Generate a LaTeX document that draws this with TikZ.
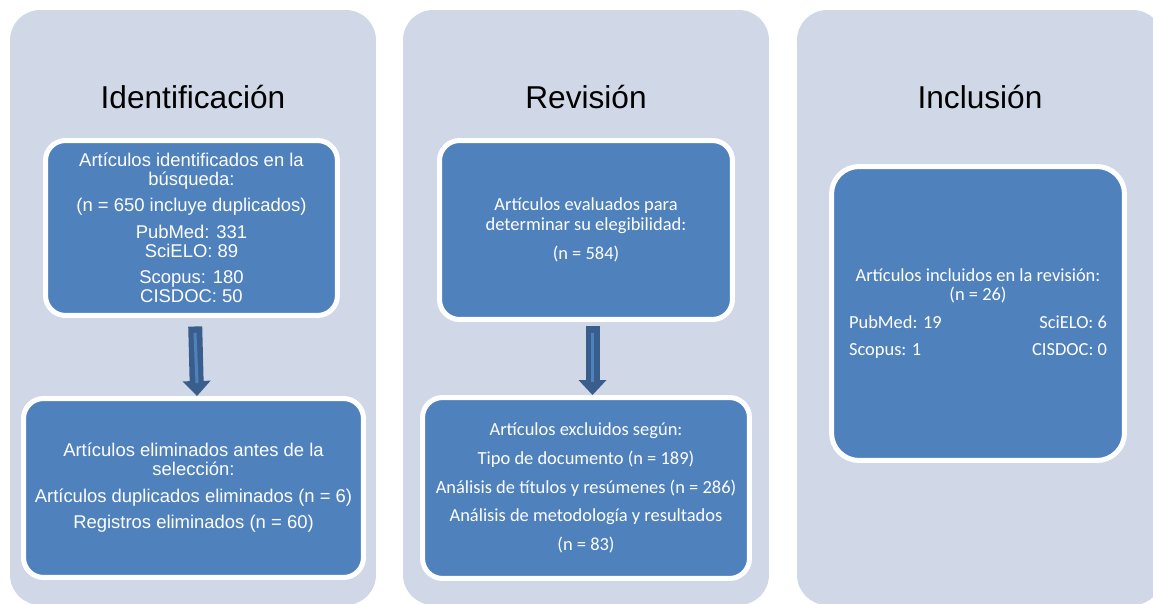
\documentclass[tikz,border=0pt]{standalone}
\usepackage{fontspec}
\setmainfont{Liberation Sans}
\newfontfamily\calfont{Carlito}
\usepackage{tikz}
\usetikzlibrary{arrows.meta}
\definecolor{panelgray}{RGB}{208, 216, 232}
\definecolor{boxblue}{RGB}{79, 129, 189}
\definecolor{arrowblue}{RGB}{58, 94, 140}
\tikzstyle{phase}=[rectangle, fill=panelgray, rounded corners=0.6cm, minimum width=7.32cm, minimum height=11.9cm, inner sep=0pt]
\tikzstyle{phasetitle}=[font=\fontsize{18}{18}\selectfont, anchor=base, inner sep=0pt]
\tikzstyle{stage}=[rectangle, draw=white, line width=0.1cm, fill=boxblue, rounded corners=0.4cm, text=white, align=center, inner sep=0pt, font=\fontsize{10.5}{10.8}\selectfont]
\tikzstyle{calstage}=[stage, font=\calfont\fontsize{10.5}{11.3}\selectfont]
\tikzstyle{flow}=[draw=arrowblue, line width=0.28cm, -{Triangle[length=0.3cm, width=0.56cm, line width=0pt]}]
\tikzstyle{flowline}=[draw=boxblue, line width=0.06cm]

\begin{document}
\begin{tikzpicture}[x=0.02cm, y=-0.02cm]
      %
      \clip (0,0) rectangle (1153,604);
      %
      % Panels and titles
      %
      \node[phase] (phaseId) at (193,307.5) {};
      \node[phase] (phaseRev) at (586,307.5) {};
      \node[phase] (phaseInc) at (980,307.5) {};
      \node[phasetitle] (titleId) at (193,109) {Identificación};
      \node[phasetitle] (titleRev) at (586,109) {Revisión};
      \node[phasetitle] (titleInc) at (980,109) {Inclusión};
      %
      % Identificación: identified --> removed
      %
      \node[stage, minimum width=5.84cm, minimum height=3.5cm] (identified) at (191.5,228)
        {Artículos identificados en la\\ búsqueda:\\[4.3pt]
         (n = 650 incluye duplicados)\\[4.3pt]
         PubMed: 331\\ SciELO: 89\\[4.3pt]
         Scopus: 180\\ CISDOC: 50};
      \node[stage, minimum width=6.8cm, minimum height=3.58cm] (removed) at (193.5,488)
        {Artículos eliminados antes de la\\ selección:\\[4.3pt]
         Artículos duplicados eliminados (n = 6)\\[4.3pt]
         Registros eliminados (n = 60)};
      \draw[flow, shorten <=0.17cm] ([xshift=0.07cm]identified.south) -- ([xshift=0.07cm]removed.north);
      \draw[flowline] ([xshift=0.07cm, yshift=-0.3cm]identified.south) -- ([xshift=0.07cm, yshift=0.26cm]removed.north);
      %
      % Revisión: screened --> excluded
      %
      \node[calstage, minimum width=5.86cm, minimum height=3.58cm] (screened) at (586,230)
        {Artículos evaluados para\\ determinar su elegibilidad:\\[5pt]
         (n = 584)};
      \node[calstage, minimum width=6.54cm, minimum height=3.62cm] (excluded) at (586,488)
        {Artículos excluidos según:\\[5pt]
         Tipo de documento (n = 189)\\[5pt]
         Análisis de títulos y resúmenes (n = 286)\\[5pt]
         Análisis de metodología y resultados\\[5pt]
         (n = 83)};
      \draw[flow, shorten <=0.09cm] ([xshift=0.13cm]screened.south) -- ([xshift=0.13cm]excluded.north);
      \draw[flowline] ([xshift=0.13cm, yshift=-0.22cm]screened.south) -- ([xshift=0.13cm, yshift=0.26cm]excluded.north);
      %
      % Inclusión: included
      %
      \node[calstage, minimum width=5.86cm, minimum height=5.88cm, rounded corners=0.55cm] (included) at (978,313.5)
        {Artículos incluidos en la revisión:\\ (n = 26)\\[4.3pt]
         \makebox[5.16cm]{PubMed: 19\hfill SciELO: 6}\\[4.3pt]
         \makebox[5.16cm]{Scopus: 1\hfill CISDOC: 0}};
      %
\end{tikzpicture}
\end{document}
